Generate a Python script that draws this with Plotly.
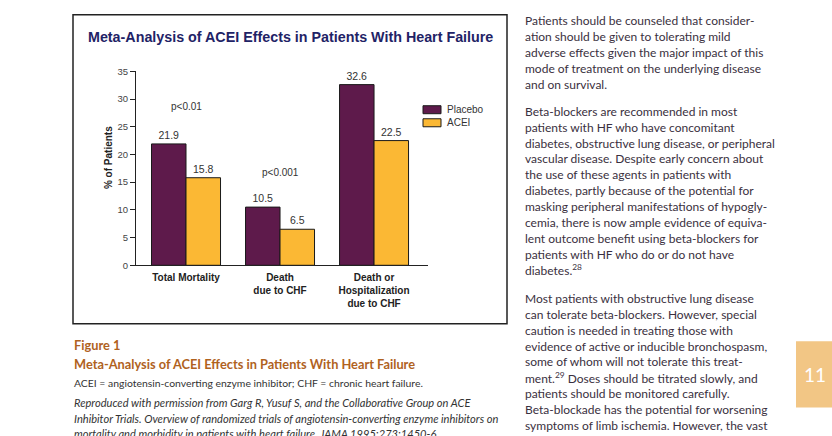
import plotly.graph_objects as go

W, H = 832, 436

categories = ["Total Mortality", "Death<br>due to CHF", "Death or<br>Hospitalization<br>due to CHF"]
placebo = [21.9, 10.5, 32.6]
acei = [15.8, 6.5, 22.5]
p_values = ["p<0.01", "p<0.001", "p<0.001"]
p_heights = [28.7, 16.7, 36.8]
y_ticks = [0, 5, 10, 15, 20, 25, 30, 35]
series_names = ["Placebo", "ACEI"]

col1 = [
    "Patients should be counseled that consider-",
    "ation should be given to tolerating mild",
    "adverse effects given the major impact of this",
    "mode of treatment on the underlying disease",
    "and on survival.",
]
col2 = [
    "Beta-blockers are recommended in most",
    "patients with HF who have concomitant",
    "diabetes, obstructive lung disease, or peripheral",
    "vascular disease. Despite early concern about",
    "the use of these agents in patients with",
    "diabetes, partly because of the potential for",
    "masking peripheral manifestations of hypogly-",
    "cemia, there is now ample evidence of equiva-",
    "lent outcome benefit using beta-blockers for",
    "patients with HF who do or do not have",
    "diabetes.<sup>28</sup>",
]
col3 = [
    "Most patients with obstructive lung disease",
    "can tolerate beta-blockers. However, special",
    "caution is needed in treating those with",
    "evidence of active or inducible bronchospasm,",
    "some of whom will not tolerate this treat-",
    "ment.<sup>29</sup> Doses should be titrated slowly, and",
    "patients should be monitored carefully.",
    "Beta-blockade has the potential for worsening",
    "symptoms of limb ischemia. However, the vast",
]


def px(x):
    return x / W


def py(y):
    return 1 - y / H


SANS = "Liberation Sans, Arial, sans-serif"
BODY = "Lato, Open Sans, sans-serif"
PURPLE = "#5e1a4b"
GOLD = "#fbb834"
TEXT = "#3a3040"
CAP = "#b0621e"
colors = [PURPLE, GOLD]

fig = go.Figure()
for name, vals, c in zip(series_names, [placebo, acei], colors):
    fig.add_trace(go.Bar(
        name=name, x=categories, y=vals,
        marker=dict(color=c, line=dict(color="#1a1a1a", width=1)),
        texttemplate="%{y:.1f}", textposition="outside",
        textfont=dict(family=SANS, size=10.5, color="#333333"), cliponaxis=False,
        showlegend=False,
    ))


def ann(x, y, text, size, color, family=BODY, xanchor="left", **kw):
    return dict(x=px(x), y=py(y), xref="paper", yref="paper", text=text, showarrow=False,
                xanchor=xanchor, yanchor="middle", font=dict(family=family, size=size, color=color), **kw)


annotations = []
for cat, p, h in zip(categories, p_values, p_heights):
    annotations.append(dict(x=cat, y=h, xref="x", yref="y", text=p, showarrow=False,
                            xanchor="center", yanchor="middle",
                            font=dict(family=SANS, size=10, color="#333333")))

# chart title
annotations.append(ann(290, 32, "<b>Meta-Analysis of ACEI Effects in Patients With Heart Failure</b>",
                       14.3, "#1f2366", family=SANS, xanchor="center"))
# y title
annotations.append(ann(108, 156, "<b>% of Patients</b>", 10, "#222222", family=SANS,
                       xanchor="center", textangle=-90))

# manual legend
leg_boxes = [(102.3, 110.5), (115.7, 123.9)]
shapes = []
for name, c, (y0, y1) in zip(series_names, colors, leg_boxes):
    shapes.append(dict(type="rect", xref="paper", yref="paper", x0=px(423), x1=px(441),
                       y0=py(y1), y1=py(y0), fillcolor=c, line=dict(color="#1a1a1a", width=1)))
    annotations.append(ann(445, (y0 + y1) / 2, name, 10, "#333333", family=SANS))

# caption
annotations.append(ann(72, 348, "<b>Figure 1</b>", 12.8, CAP))
annotations.append(ann(72, 367, "<b>Meta-Analysis of ACEI Effects in Patients With Heart Failure</b>", 12.8, CAP))
annotations.append(ann(72, 387, "ACEI = angiotensin-converting enzyme inhibitor; CHF = chronic heart failure.",
                       10.4, "#333333"))
ital = [
    "Reproduced with permission from Garg R, Yusuf S, and the Collaborative Group on ACE",
    "Inhibitor Trials. Overview of randomized trials of angiotensin-converting enzyme inhibitors on",
    "mortality and morbidity in patients with heart failure. JAMA 1995;273:1450-6.",
]
for i, line in enumerate(ital):
    annotations.append(ann(72, 407 + 16 * i, "<i>" + line + "</i>", 11.1, "#333333"))

# right column text
LS = 16.3
for start, lines in [(15, col1), (108, col2), (300, col3)]:
    for i, line in enumerate(lines):
        annotations.append(ann(523, start + LS * i, line, 12.0, TEXT))

# page number
annotations.append(ann(815, 378, "11", 19, "white", xanchor="center"))

shapes += [
    dict(type="rect", xref="paper", yref="paper", x0=px(73), x1=px(507), y0=py(326), y1=py(9),
         line=dict(color="#222222", width=1.5)),
    dict(type="rect", xref="paper", yref="paper", x0=px(796), x1=px(832), y0=py(412), y1=py(344),
         line=dict(width=0), fillcolor="#f2c685", layer="below"),
]

fig.update_layout(
    width=W, height=H, margin=dict(l=0, r=0, t=0, b=0),
    paper_bgcolor="white", plot_bgcolor="white",
    barmode="group", bargap=0.266, bargroupgap=0,
    showlegend=False,
    xaxis=dict(domain=[px(136), px(428)], range=[-0.532, 2.574], showline=True,
               linecolor="#222222", linewidth=1, ticks="", showgrid=False,
               tickfont=dict(family=SANS, size=10, color="#222222"),
               tickprefix="<b>", ticksuffix="</b>", ticklabelstandoff=3, fixedrange=True),
    yaxis=dict(domain=[py(266), py(67)], range=[0, 35], tickvals=y_ticks, showline=True,
               linecolor="#222222", linewidth=1, ticks="outside", ticklen=5, tickcolor="#222222",
               showgrid=False, zeroline=False, tickfont=dict(family=SANS, size=9.5, color="#444444"),
               fixedrange=True),
    annotations=annotations, shapes=shapes,
)

fig.write_html("out.html")
